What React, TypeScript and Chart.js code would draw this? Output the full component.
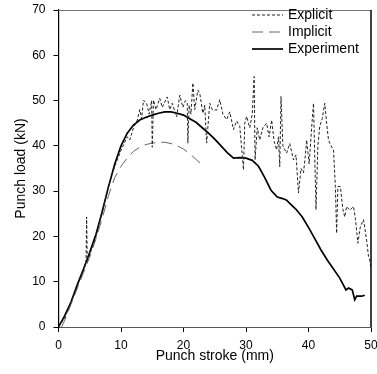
import React, { useEffect, useRef } from 'react';
import { Chart, registerables } from 'chart.js';

Chart.register(...registerables);

const seriesNames = ['Explicit', 'Implicit', 'Experiment'];

const explicitX = [0, 1, 2, 3, 4, 4.4, 4.5, 4.6, 5, 6, 7, 8, 9, 10, 10.5, 11, 11.4, 12, 12.6, 13, 13.3, 13.6, 14.1, 14.5, 14.9, 15, 15.2, 15.6, 16.2, 16.6, 16.9, 17.4, 17.8, 18.2, 18.9, 19.4, 19.9, 20.3, 20.6, 20.7, 20.9, 21.2, 21.5, 21.8, 22.3, 22.6, 23.1, 23.4, 23.7, 24.2, 24.6, 25.3, 25.8, 26.3, 26.9, 27.4, 28, 28.5, 29, 29.6, 29.8, 30.1, 30.6, 31, 31.3, 31.45, 31.8, 32.2, 32.7, 33.3, 33.7, 34.1, 34.5, 34.9, 35.2, 35.4, 35.6, 35.9, 36.5, 37, 37.6, 38, 38.4, 38.8, 39.2, 39.5, 39.7, 40.1, 40.5, 40.8, 41.2, 41.5, 41.8, 42.2, 42.6, 42.9, 43.2, 43.6, 44, 44.3, 44.5, 44.7, 45.1, 45.5, 45.8, 46.1, 46.6, 47.2, 47.5, 47.9, 48.3, 48.8, 49.3, 49.6, 49.8, 50];
const explicitY = [0, 2, 5.5, 9, 12.5, 14, 24.3, 14.5, 16, 20, 25.5, 31, 35.5, 39, 40.5, 42, 41.3, 44, 45.7, 48, 46, 50.1, 49.4, 47, 50, 39.7, 50.1, 48, 50.5, 48.5, 49.4, 50.8, 48, 49.4, 46.4, 51.2, 48.5, 50, 49.4, 40.6, 49, 47, 53.9, 48, 52.3, 51.6, 47.2, 49, 40.6, 49.4, 48, 47.9, 50.2, 47, 45.8, 47.5, 43.6, 45.5, 44.3, 34.7, 45, 46.5, 44, 47, 55.3, 36.9, 44, 41.3, 44, 45, 42, 45.7, 41, 39.1, 42, 35.4, 50.9, 40, 38.4, 40.5, 36.9, 38, 29.6, 35, 34, 38, 41.3, 36, 44, 49.4, 25.9, 40, 44.3, 46, 49.4, 45, 41.3, 40, 39.1, 31, 20.7, 31, 31, 26, 24.3, 26.6, 25.8, 26.6, 24, 18.5, 22.2, 23.7, 19.2, 15.6, 14.8, 13.2];

const implicitX = [0.5, 1, 2, 3, 4, 5, 6, 7, 8, 9, 10, 11, 12, 13, 14, 15, 16, 17, 18, 19, 20, 21, 22, 23];
const implicitY = [0, 1.5, 5, 8.5, 12, 15.5, 19.5, 24, 29, 33, 35.5, 37.3, 38.8, 39.7, 40.3, 40.6, 40.8, 40.8, 40.5, 40, 39.3, 38.3, 37, 35.8];

const experimentX = [0, 1, 2, 3, 4, 5, 6, 7, 8, 9, 10, 11, 12, 13, 14, 15, 16, 17, 18, 19, 20, 21, 22, 23, 24, 25, 26, 27, 28, 29, 30, 31, 32, 33, 34, 35, 36, 36.5, 37, 38, 39, 40, 41, 42, 43, 44, 45, 46, 46.4, 47, 47.4, 47.7, 48.5, 49];
const experimentY = [0, 2.5, 5.5, 9.3, 12.8, 16.5, 20.5, 25.5, 31, 36, 40, 42.8, 44.6, 45.7, 46.3, 46.8, 47.2, 47.5, 47.5, 47.2, 46.8, 46, 45.2, 44, 42.8, 41.5, 40, 38.5, 37.3, 37.4, 37.3, 36.8, 35.5, 33, 30.2, 28.7, 28.3, 28, 27.3, 26, 24.3, 22, 19.5, 17, 14.8, 12.8, 10.8, 8.2, 8.6, 8.2, 6, 6.8, 6.8, 7];

const xTicks = [0, 10, 20, 30, 40, 50];
const yTicks = [0, 10, 20, 30, 40, 50, 60, 70];

const FONT = "'Liberation Sans', Arial, sans-serif";

const toPoints = (xs: number[], ys: number[]) => xs.map((x, i) => ({ x, y: ys[i] }));

const styles = [
  { color: '#222', width: 1, dash: [3, 2] },
  { color: '#666', width: 1, dash: [11, 6] },
  { color: '#000', width: 1.7, dash: [] as number[] },
];

const framePlugin = {
  id: 'frameAndLegend',
  afterDatasetsDraw(chart: any) {
    const { ctx, chartArea } = chart;
    const { left, right, top, bottom } = chartArea;
    ctx.save();
    ctx.lineWidth = 1;
    ctx.strokeStyle = '#777';
    ctx.beginPath();
    ctx.moveTo(left, top + 0.5);
    ctx.lineTo(right, top + 0.5);
    ctx.stroke();
    ctx.strokeStyle = '#000';
    ctx.lineWidth = 1.5;
    ctx.beginPath();
    ctx.moveTo(right, top);
    ctx.lineTo(right, bottom);
    ctx.stroke();

    const lx0 = 252;
    const lx1 = 283;
    const ys = [15, 32, 49];
    ctx.font = `14px ${FONT}`;
    ctx.fillStyle = '#000';
    ctx.textBaseline = 'middle';
    ctx.textAlign = 'left';
    seriesNames.forEach((name, i) => {
      const s = styles[i];
      ctx.strokeStyle = s.color;
      ctx.lineWidth = s.width;
      ctx.setLineDash(s.dash);
      ctx.beginPath();
      ctx.moveTo(lx0, ys[i]);
      ctx.lineTo(lx1, ys[i]);
      ctx.stroke();
      ctx.setLineDash([]);
      ctx.fillText(name, 288, ys[i]);
    });
    ctx.restore();
  },
};

export default function App() {
  const ref = useRef<HTMLCanvasElement | null>(null);

  useEffect(() => {
    if (!ref.current) return;
    const datasets = [
      toPoints(explicitX, explicitY),
      toPoints(implicitX, implicitY),
      toPoints(experimentX, experimentY),
    ].map((data, i) => ({
      label: seriesNames[i],
      data,
      borderColor: styles[i].color,
      borderWidth: styles[i].width,
      borderDash: styles[i].dash,
      pointRadius: 0,
      tension: 0,
      fill: false,
    }));

    const chart = new Chart(ref.current, {
      type: 'line',
      data: { datasets },
      plugins: [framePlugin],
      options: {
        animation: false,
        responsive: false,
        maintainAspectRatio: false,
        layout: { padding: { top: 10, right: 6, left: 0, bottom: 0 } },
        plugins: { legend: { display: false }, tooltip: { enabled: false } },
        scales: {
          x: {
            type: 'linear',
            min: 0,
            max: 50,
            afterBuildTicks: (scale: any) => {
              scale.ticks = xTicks.map((v) => ({ value: v }));
            },
            afterFit: (scale: any) => {
              scale.height = 47;
              scale.paddingLeft = 0;
              scale.paddingRight = 0;
            },
            ticks: { color: '#000', font: { family: FONT, size: 12 }, padding: 6, maxRotation: 0 },
            grid: { drawOnChartArea: false, drawTicks: true, tickLength: 5, color: '#000' },
            border: { display: true, color: '#555', width: 1 },
            title: {
              display: true,
              text: 'Punch stroke (mm)',
              color: '#000',
              font: { family: FONT, size: 14 },
              padding: { top: 0, bottom: 9 },
            },
          },
          y: {
            type: 'linear',
            min: 0,
            max: 70,
            afterBuildTicks: (scale: any) => {
              scale.ticks = yTicks.map((v) => ({ value: v }));
            },
            afterFit: (scale: any) => {
              scale.width = 58.5;
              scale.paddingTop = 0;
              scale.paddingBottom = 0;
            },
            ticks: { color: '#000', font: { family: FONT, size: 12 }, padding: 8 },
            grid: { drawOnChartArea: false, drawTicks: true, tickLength: 5, color: '#000' },
            border: { display: true, color: '#000', width: 1.2 },
            title: {
              display: true,
              text: 'Punch load (kN)',
              color: '#000',
              font: { family: FONT, size: 14 },
              padding: { top: 13, bottom: 0 },
            },
          },
        },
      },
    });
    return () => chart.destroy();
  }, []);

  return (
    <div style={{ position: 'fixed', left: 0, top: 0, width: 377, height: 374, background: '#fff' }}>
      <canvas ref={ref} width={377} height={374} style={{ width: 377, height: 374, display: 'block' }} />
    </div>
  );
}
